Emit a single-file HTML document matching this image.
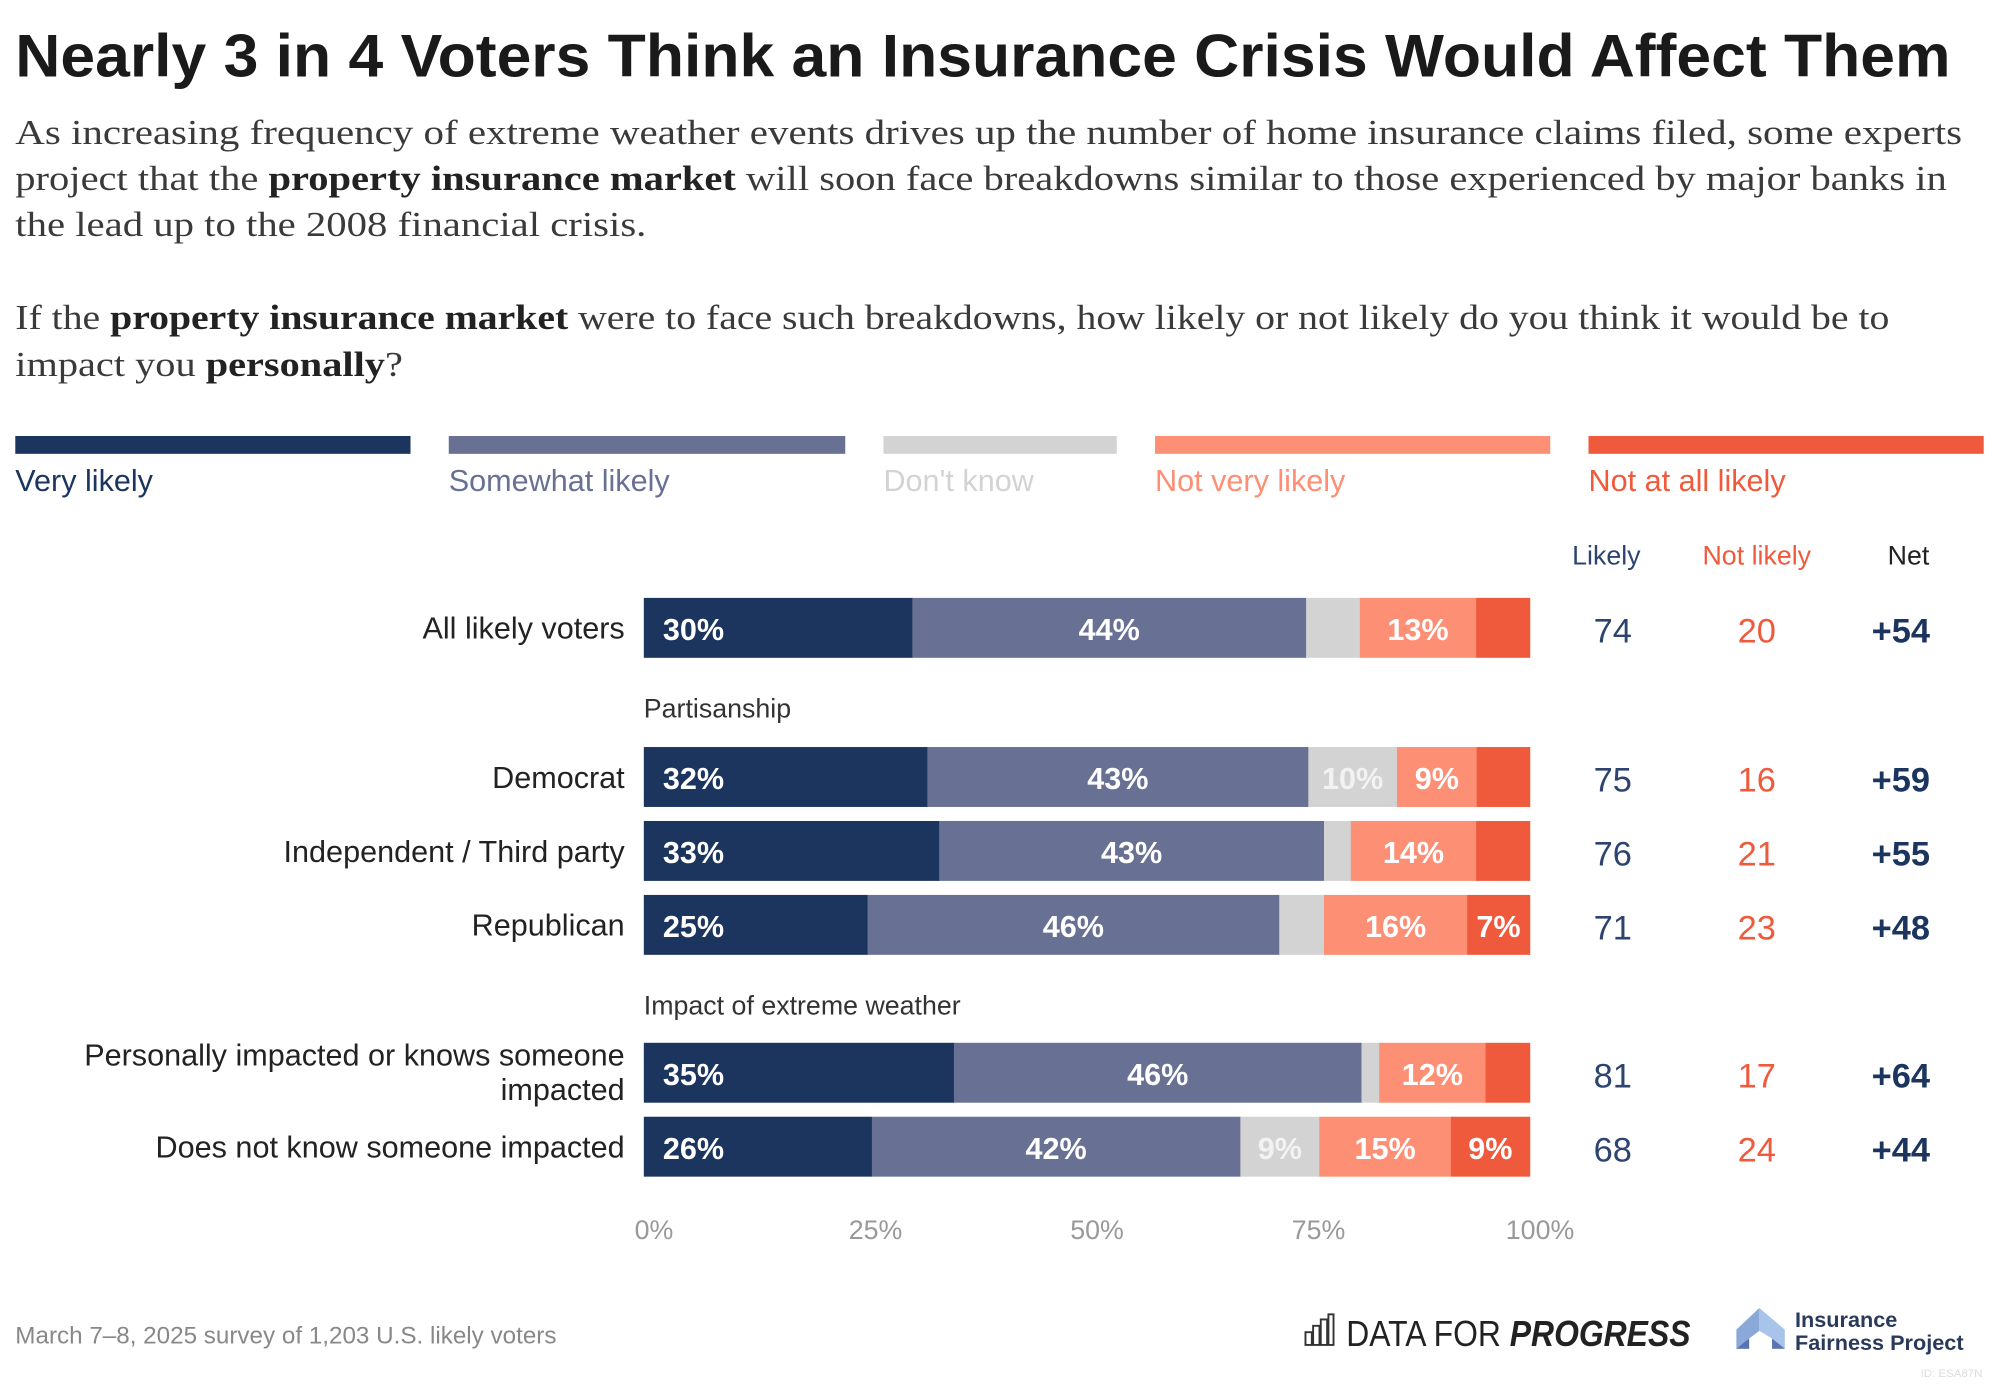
<!DOCTYPE html>
<html><head><meta charset="utf-8"><style>
html,body{margin:0;padding:0;background:#fff}
svg{display:block}
text{font-family:"Liberation Sans",sans-serif}
.serif{font-family:"Liberation Serif",serif}
</style></head><body>
<svg id="chart" width="1999" height="1387" viewBox="0 0 1568 1088" preserveAspectRatio="none" xmlns="http://www.w3.org/2000/svg">
<text x="12" y="60" font-size="47" font-weight="bold" fill="#1a1a1a" textLength="1518" lengthAdjust="spacingAndGlyphs">Nearly 3 in 4 Voters Think an Insurance Crisis Would Affect Them</text>
<g class="serif" font-size="27" fill="#3a3a3a">
<text class="serif" x="12" y="113" textLength="1527" lengthAdjust="spacingAndGlyphs">As increasing frequency of extreme weather events drives up the number of home insurance claims filed, some experts</text>
<text class="serif" x="12" y="149" textLength="1515" lengthAdjust="spacingAndGlyphs">project that the <tspan font-weight="bold" fill="#222">property insurance market</tspan> will soon face breakdowns similar to those experienced by major banks in</text>
<text class="serif" x="12" y="185" textLength="495" lengthAdjust="spacingAndGlyphs">the lead up to the 2008 financial crisis.</text>
<text class="serif" x="12" y="258" textLength="1470" lengthAdjust="spacingAndGlyphs">If the <tspan font-weight="bold" fill="#222">property insurance market</tspan> were to face such breakdowns, how likely or not likely do you think it would be to</text>
<text class="serif" x="12" y="295" textLength="304" lengthAdjust="spacingAndGlyphs">impact you <tspan font-weight="bold" fill="#222">personally</tspan>?</text>
</g>
<g id="legend"></g>
<g font-size="21">
<text x="1260" y="443" text-anchor="middle" fill="#2e4470">Likely</text>
<text x="1378" y="443" text-anchor="middle" fill="#f05a3c">Not likely</text>
<text x="1497" y="443" text-anchor="middle" fill="#222">Net</text>
</g>
<text x="505" y="563" font-size="21" fill="#333">Partisanship</text>
<text x="505" y="796" font-size="21" fill="#333">Impact of extreme weather</text>
<g id="bars"></g>
<g id="axis"></g>
<text x="12" y="1054" font-size="19" fill="#888">March 7–8, 2025 survey of 1,203 U.S. likely voters</text>
<g>
<g fill="none" stroke="#333" stroke-width="1.5">
<rect x="1024" y="1045" width="5" height="10"/><rect x="1030" y="1040" width="5" height="15"/><rect x="1036" y="1035" width="5" height="20"/><rect x="1042" y="1031" width="4" height="24"/>
</g>
<text x="1056" y="1056" font-size="28" fill="#222" textLength="270" lengthAdjust="spacingAndGlyphs">DATA FOR <tspan font-weight="bold" font-style="italic">PROGRESS</tspan></text>
</g>
<g>
<polygon points="1362,1058 1362,1043 1380,1026 1380,1044 1372,1050 1372,1058" fill="#8aa8d8"/>
<polygon points="1380,1026 1400,1043 1400,1058 1390,1058 1390,1050 1380,1044" fill="#a8c4ea"/>
<polygon points="1362,1058 1372,1050 1372,1058" fill="#5a74b0"/>
<polygon points="1390,1050 1400,1058 1390,1058" fill="#5a74b0"/>
<text x="1408" y="1041" font-size="17" font-weight="bold" fill="#2a3a5c">Insurance</text>
<text x="1408" y="1059" font-size="17" font-weight="bold" fill="#2a3a5c">Fairness Project</text>
</g>
<text x="1555" y="1080" font-size="9" text-anchor="end" fill="#ddd">ID: ESA87N</text>
</svg>
<script>
const seriesNames = ["Very likely","Somewhat likely","Don't know","Not very likely","Not at all likely"];
const seriesColors = ["#1c355e","#687193","#d3d3d3","#fd8f75","#f05a3c"];
const labelColors = ["#fff","#fff","#f2f2f2","#fff","#fff"];
const categories = ["All likely voters","Democrat","Independent / Third party","Republican","Personally impacted or knows someone impacted","Does not know someone impacted"];
const veryLikely = [30,32,33,25,35,26];
const somewhatLikely = [44,43,43,46,46,42];
const dontKnow = [6,10,3,5,2,9];
const notVeryLikely = [13,9,14,16,12,15];
const notAtAllLikely = [6,6,6,7,5,9];
const likelyTotals = [74,75,76,71,81,68];
const notLikelyTotals = [20,16,21,23,17,24];
const netValues = ["+54","+59","+55","+48","+64","+44"];
const tickValues = [0,25,50,75,100];
const tickLabels = ["0%","25%","50%","75%","100%"];

const NS="http://www.w3.org/2000/svg";
const rowY=[469,586,644,702,818,876];
const barH=47, x0=505, x1=1200;
function xScale(v){return x0+(x1-x0)*v/100;}
function mk(tag,attrs,parent){const e=document.createElementNS(NS,tag);for(const k in attrs)e.setAttribute(k,attrs[k]);parent.appendChild(e);return e;}

const lg=document.getElementById('legend');
const lx=[12,352,693,906,1246], lw=[310,311,183,310,310];
const legColors=["#1c355e","#687193","#d3d3d3","#fd8f75","#f05a3c"];
seriesNames.forEach((n,i)=>{
  const g=mk('g',{},lg);
  
  
  mk('rect',{x:lx[i],y:342,width:lw[i],height:14,fill:legColors[i]},g);
  const t=mk('text',{x:lx[i],y:385,'font-size':24,fill:legColors[i]},g);
  t.textContent=n;
});

const bars=document.getElementById('bars');
const series=[veryLikely,somewhatLikely,dontKnow,notVeryLikely,notAtAllLikely];
categories.forEach((c,r)=>{
  const g=mk('g',{},bars);
  
  
  const y=rowY[r];
  if(r===4){
    const t1=mk('text',{x:490,y:y+18,'text-anchor':'end','font-size':24,fill:'#222'},g);t1.textContent="Personally impacted or knows someone";
    const t2=mk('text',{x:490,y:y+45,'text-anchor':'end','font-size':24,fill:'#222'},g);t2.textContent="impacted";
  } else {
    const t=mk('text',{x:490,y:y+32,'text-anchor':'end','font-size':24,fill:'#222'},g);t.textContent=c;
  }
  const total=series.reduce((s,a)=>s+a[r],0);
  let cum=0;
  series.forEach((a,i)=>{
    const v=a[r]*100/total;
    const xa=xScale(cum), xb=xScale(cum+v);
    const rc=mk('rect',{x:xa,y:y,width:xb-xa+0.3,height:barH,fill:seriesColors[i]},g);
    
    
    if(a[r]>=7){
      const t=mk('text',{x:i===0?xa+15:(xa+xb)/2,y:y+33,'text-anchor':i===0?'start':'middle','font-size':24,'font-weight':'bold',fill:labelColors[i]},g);
      t.textContent=a[r]+"%";
    }
    cum+=v;
  });
  const l=mk('text',{x:1265,y:y+35,'text-anchor':'middle','font-size':27,fill:'#2e4470'},g);l.textContent=likelyTotals[r];
  const n=mk('text',{x:1378,y:y+35,'text-anchor':'middle','font-size':27,fill:'#f05a3c'},g);n.textContent=notLikelyTotals[r];
  const nt=mk('text',{x:1491,y:y+35,'text-anchor':'middle','font-size':27,'font-weight':'bold',fill:'#1c355e'},g);nt.textContent=netValues[r];
});

const ax=document.getElementById('axis');
tickValues.forEach((v,i)=>{
  const t=mk('text',{x:xScale(v)+8,y:972,'text-anchor':'middle','font-size':21,fill:'#999'},ax);
  
  
  t.textContent=tickLabels[i];
});
</script>
</body></html>
